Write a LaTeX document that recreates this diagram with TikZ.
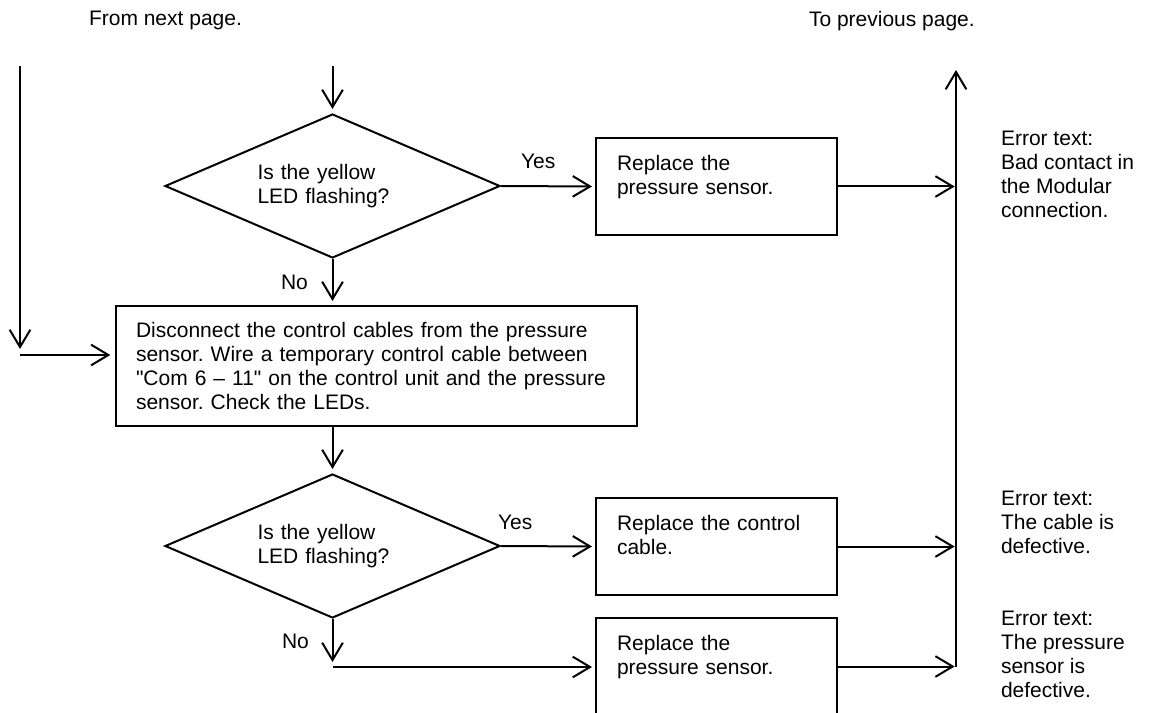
\documentclass[tikz,border=0pt]{standalone}
\usepackage{fontspec}
\setmainfont{Liberation Sans}
\newfontfamily\lsans{Liberation Sans}
\usetikzlibrary{arrows.meta,shapes.geometric}
\newcommand\fsz{\lsans\fontsize{15.75pt}{18pt}\selectfont}
\frenchspacing
\begin{document}
\begin{tikzpicture}[x=0.75pt,y=-0.75pt,line width=1.5pt,font=\fsz,
  arr/.style={-{Straight Barb[length=13pt,width=15.5pt]}},
  decision/.style={draw,diamond,shape aspect=2.33,minimum width=251.25pt,minimum height=108pt,inner sep=0pt,text width=112.5pt,align=left},
  procbox/.style={draw,rectangle,minimum width=180.75pt,minimum height=72.75pt,inner xsep=15.75pt,inner ysep=0pt,text width=149.25pt,align=left},
  bigbox/.style={draw,rectangle,minimum width=390.75pt,minimum height=90pt,inner xsep=15pt,inner ysep=0pt,text width=360.75pt,align=left},
  lbl/.style={inner sep=0pt,anchor=north west,align=left}]
\clip (0,0) rectangle (1149,713);

% labels
\node[lbl] (from) at (88,10) {From next page.};
\node[lbl] (to) at (808,10) {To previous page.};

% shapes
\node[decision] (d1) at (332.5,186) {Is the yellow\\LED flashing?};
\node[procbox] (b1) at (716.5,186.5) {Replace the\\pressure sensor.\\\mbox{}};
\node[bigbox] (bb) at (376.5,366) {Disconnect the control cables from the pressure\\sensor. Wire a temporary control cable between\\"Com 6 – 11" on the control unit and the pressure\\sensor. Check the LEDs.};
\node[decision] (d2) at (332.5,546) {Is the yellow\\LED flashing?};
\node[procbox] (b2) at (716.5,546.5) {Replace the control\\cable.\\\mbox{}};
\node[procbox] (b3) at (716.5,666.5) {Replace the\\pressure sensor.\\\mbox{}};

% branch labels
\node[lbl] (yes1) at (520,153) {Yes};
\node[lbl] (no1) at (280,274) {No};
\node[lbl] (yes2) at (497,514) {Yes};
\node[lbl] (no2) at (281,633) {No};

% error texts
\node[lbl] (e1) at (1000,130) {Error text:\\Bad contact in\\the Modular\\connection.};
\node[lbl] (e2) at (1000,490) {Error text:\\The cable is\\defective.};
\node[lbl] (e3) at (1000,610) {Error text:\\The pressure\\sensor is\\defective.};

% coordinates
\coordinate (Ltop) at (20,66);
\coordinate (Lend) at (20,349);
\coordinate (Lh) at (20,355);
\coordinate (Ttop) at (332.5,66);
\coordinate (Rbot) at (956,667);
\coordinate (Rtop) at (956,70);
\coordinate (Nv) at (332.5,662);
\coordinate (Nh) at (332.5,667);

% connectors
\draw[arr] (Ltop) -- (Lend);
\draw[arr,shorten >=3.5pt] (Lh) -- (Lh -| bb.west);
\draw[arr,shorten >=3pt] (Ttop) -- (d1.north);
\draw[arr,shorten >=2.25pt] (d1.east) -- (b1.west);
\draw[arr,shorten >=1pt] (b1.east) -- (b1.east -| Rbot);
\draw[arr,shorten >=3pt] (d1.south) -- (d1.south |- bb.north);
\draw[arr,shorten >=3pt] (d1.south |- bb.south) -- (d2.north);
\draw[arr,shorten >=2.25pt] (d2.east) -- (b2.west);
\draw[arr,shorten >=1pt] (b2.east) -- (b2.east -| Rbot);
\draw[arr] (d2.south) -- (Nv);
\draw[arr,shorten >=2.25pt] (Nh) -- (Nh -| b3.west);
\draw[arr,shorten >=1pt] (b3.east) -- (b3.east -| Rbot);
\draw[arr] (Rbot) -- (Rtop);
\end{tikzpicture}
\end{document}
